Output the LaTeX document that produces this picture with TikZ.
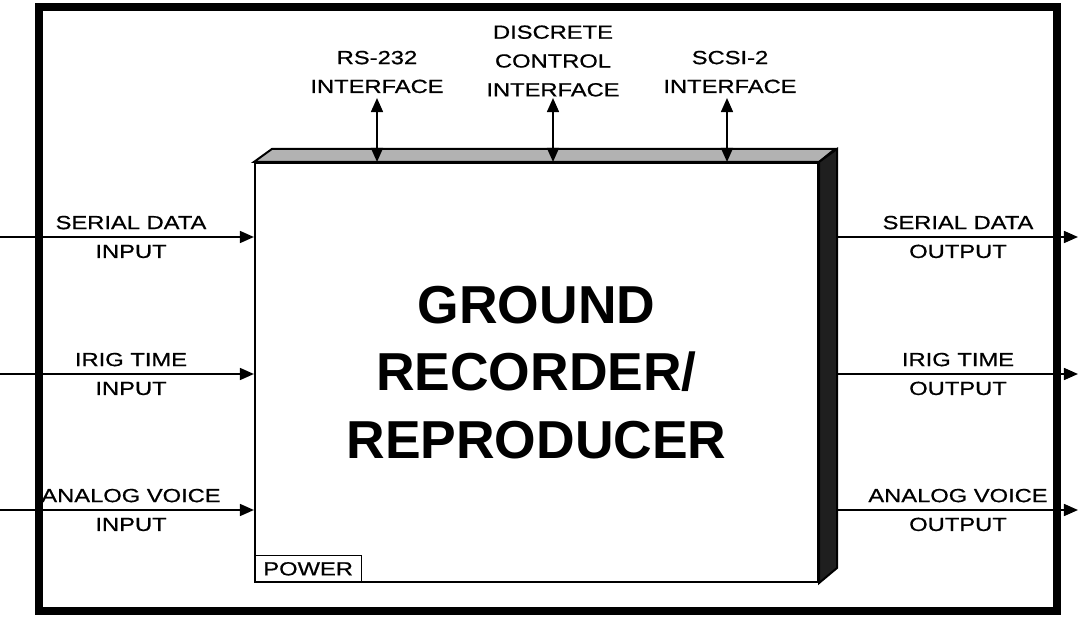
\documentclass[tikz,border=0pt]{standalone}
\usepackage{fontspec}
\setmainfont{Liberation Sans}
\newfontfamily\lblfont[FakeStretch=1.25, FakeBold=0.7]{Liberation Sans}
\usetikzlibrary{arrows.meta}

\begin{document}
\begin{tikzpicture}[x=0.025cm, y=-0.025cm,
    lbl/.style={font=\lblfont\fontsize{13.5}{20.5}\selectfont, align=center},
    sig/.style={line width=1.3pt, -{Triangle[length=10pt,width=8.5pt]}},
    bus/.style={line width=1.3pt, {Triangle[length=10pt,width=8.5pt]}-{Triangle[length=10pt,width=8.5pt]}}]
    \useasboundingbox (0,0) rectangle (1079,617);
    \draw[line width=5pt] (39,7) rectangle (1057,611);
    % recorder box
    \node[draw, line width=1.4pt, minimum width=14.075cm, minimum height=10.475cm,
          font=\bfseries\fontsize{38}{48.2}\selectfont, align=center] (box) at (536.5,372.5)
          {GROUND\\RECORDER/\\REPRODUCER};
    \filldraw[fill=black!30, line width=1.4pt] (box.north west) -- ++(18,-13) -- ++(563,0) -- (box.north east) -- cycle;
    \filldraw[fill=black!88, line width=1.4pt] (box.north east) -- ++(18,-13) -- ++(0,419) -- (box.south east) -- cycle;
    \node[draw, line width=1pt, anchor=south west, minimum width=2.675cm, minimum height=0.675cm, lbl] (power) at (box.south west) {POWER};
    % inputs
    \coordinate (in1) at (0,237);
    \coordinate (in2) at (0,374);
    \coordinate (in3) at (0,510);
    \draw[sig] (in1) -- (in1 -| box.west);
    \draw[sig] (in2) -- (in2 -| box.west);
    \draw[sig] (in3) -- (in3 -| box.west);
    \node[lbl] (sdin) at (131,237) {SERIAL DATA\\INPUT};
    \node[lbl] (irin) at (131,374) {IRIG TIME\\INPUT};
    \node[lbl] (avin) at (131,510) {ANALOG VOICE\\INPUT};
    % outputs
    \coordinate (out1) at (1078,237);
    \coordinate (out2) at (1078,374);
    \coordinate (out3) at (1078,510);
    \draw[sig] ([xshift=18*0.025cm]box.east |- out1) -- (out1);
    \draw[sig] ([xshift=18*0.025cm]box.east |- out2) -- (out2);
    \draw[sig] ([xshift=18*0.025cm]box.east |- out3) -- (out3);
    \node[lbl] (sdout) at (958,237) {SERIAL DATA\\OUTPUT};
    \node[lbl] (irout) at (958,374) {IRIG TIME\\OUTPUT};
    \node[lbl] (avout) at (958,510) {ANALOG VOICE\\OUTPUT};
    % interfaces
    \node[lbl] (rs) at (377,72) {RS-232\\INTERFACE};
    \node[lbl] (dc) at (553,61) {DISCRETE\\CONTROL\\INTERFACE};
    \node[lbl] (scsi) at (730,72) {SCSI-2\\INTERFACE};
    \coordinate (t1) at (377,98);
    \coordinate (t2) at (553,98);
    \coordinate (t3) at (727,98);
    \draw[bus] (t1) -- (t1 |- box.north);
    \draw[bus] (t2) -- (t2 |- box.north);
    \draw[bus] (t3) -- (t3 |- box.north);
\end{tikzpicture}
\end{document}
